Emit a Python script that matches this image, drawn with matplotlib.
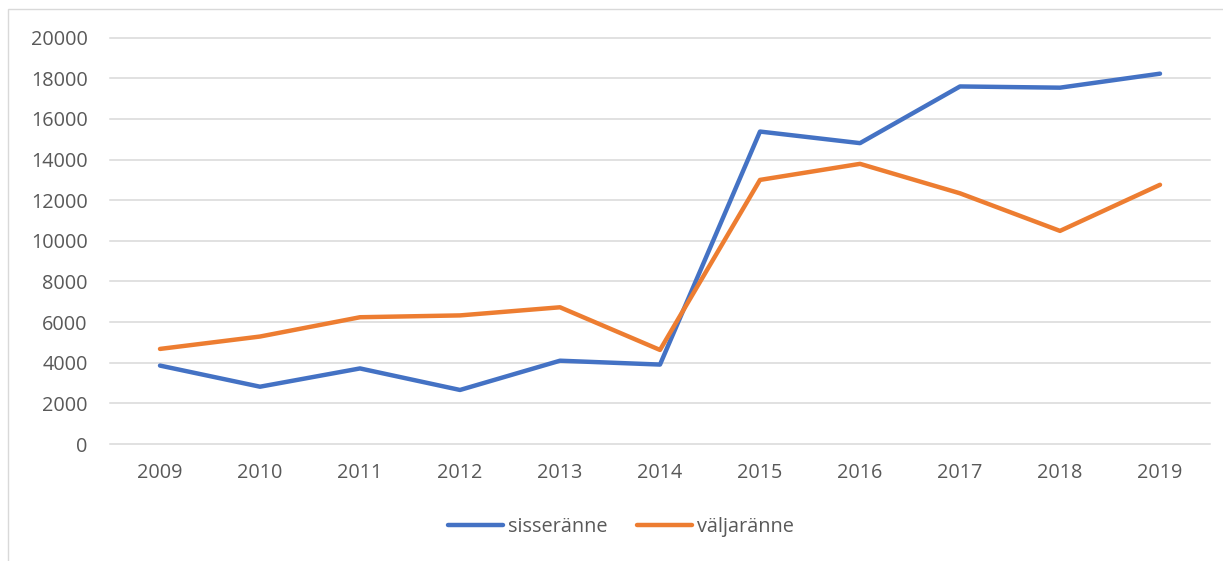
import matplotlib.pyplot as plt
from matplotlib.patches import Rectangle

# Données
years = ['2009', '2010', '2011', '2012', '2013', '2014', '2015', '2016', '2017', '2018', '2019']
sisseranne = [3860, 2820, 3720, 2660, 4100, 3910, 15380, 14810, 17600, 17540, 18230]
valjaranne = [4680, 5290, 6240, 6330, 6730, 4630, 13000, 13790, 12340, 10490, 12760]

plt.rcParams['font.family'] = ['Open Sans', 'DejaVu Sans']
text_color = '#595959'
grid_color = '#d9d9d9'

fig = plt.figure(figsize=(12.23, 5.61), dpi=100)
ax = fig.add_axes([110 / 1223, 1 - 444 / 561, 1100 / 1223, (444 - 37.7) / 561])

x = range(len(years))
ax.plot(x, sisseranne, color='#4472C4', linewidth=3.2, solid_capstyle='round',
        solid_joinstyle='round', label='sisseränne')
ax.plot(x, valjaranne, color='#ED7D31', linewidth=3.2, solid_capstyle='round',
        solid_joinstyle='round', label='väljaränne')

ax.set_xlim(-0.5, len(years) - 0.5)
ax.set_ylim(0, 20000)
ax.set_yticks(range(0, 20001, 2000))
ax.set_xticks(list(x))
ax.set_xticklabels(years)

# Grille
ax.grid(axis='y', color=grid_color, linewidth=1.1)
ax.set_axisbelow(True)
for gl in ax.get_ygridlines():
    gl.set_clip_on(False)
for s in ax.spines.values():
    s.set_visible(False)
ax.tick_params(axis='both', length=0, labelsize=14.3, labelcolor=text_color)
ax.tick_params(axis='y', pad=16)
ax.tick_params(axis='x', pad=14)

# Légende
ax.legend(loc='center', bbox_to_anchor=(621 / 1223, 1 - 527 / 561),
          bbox_transform=fig.transFigure, ncol=2, frameon=False,
          fontsize=14.3, labelcolor=text_color, handlelength=2.8,
          handletextpad=0.25, columnspacing=1.45)

# Cadre du graphique
fig.patches.append(Rectangle((8 / 1223, -0.05), 1.1, 1.05 - 9 / 561,
                             transform=fig.transFigure, fill=False,
                             edgecolor=grid_color, linewidth=1))

fig.savefig('out.png', dpi=100)
